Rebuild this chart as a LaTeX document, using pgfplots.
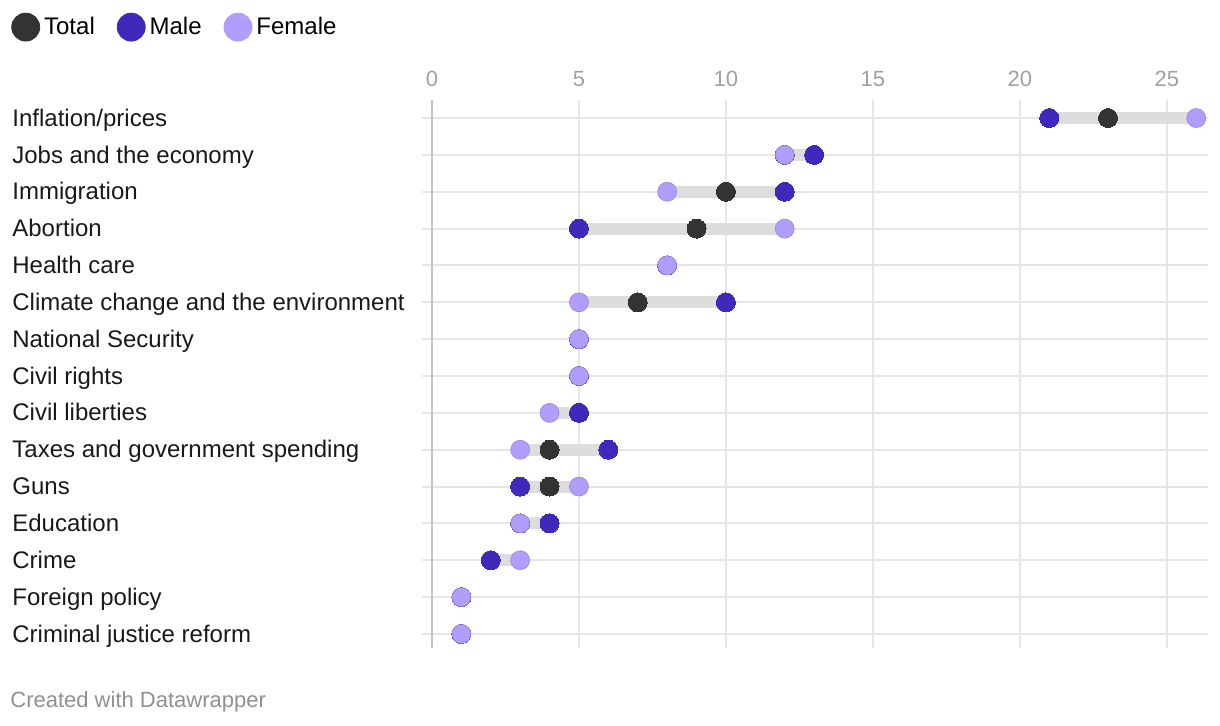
\documentclass[border=0pt]{standalone}
\usepackage{pgfplots}
\pgfplotsset{compat=1.18}
\usepackage{pgfplotstable}
\usepackage{fontspec}
\setmainfont{Liberation Sans}
\definecolor{cTotal}{HTML}{333333}
\definecolor{cMale}{HTML}{3F28BA}
\definecolor{cFemale}{HTML}{B29CFD}
\definecolor{cBar}{HTML}{DDDDDD}
\definecolor{cGrid}{HTML}{E6E6E6}
\definecolor{cZero}{HTML}{C4C4C4}
\definecolor{cTick}{HTML}{A0A0A0}
\pgfplotstableread{
y total male female lo span
0 23 21 26 21 5
1 12 13 12 12 1
2 10 12 8 8 4
3 9 5 12 5 7
4 8 8 8 8 0
5 7 10 5 5 5
6 5 5 5 5 0
7 5 5 5 5 0
8 5 5 4 4 1
9 4 6 3 3 3
10 4 3 5 3 2
11 3 4 3 3 1
12 2 2 3 2 1
13 1 1 1 1 0
14 1 1 1 1 0
}\data
\begin{document}
\begin{tikzpicture}[x=1pt,y=1pt]
\useasboundingbox (0,0) rectangle (610,363);
\begin{axis}[
  at={(211pt,39pt)}, anchor=south west, scale only axis,
  width=393pt, height=274pt,
  xmin=-0.34, xmax=26.4, ymin=-0.49, ymax=14.38, y dir=reverse,
  axis line style={draw=none},
  xtick={0,5,...,25}, ytick={0,...,14},
  yticklabels={Inflation/prices,Jobs and the economy,Immigration,Abortion,Health care,Climate change and the environment,National Security,Civil rights,Civil liberties,Taxes and government spending,Guns,Education,Crime,Foreign policy,Criminal justice reform},
  xticklabel pos=upper,
  /pgf/number format/assume math mode=true,
  tick style={draw=none},
  grid=major, major grid style={cGrid, line width=1pt},
  xticklabel style={text=cTick, font=\fontsize{11}{13}\selectfont, yshift=3pt},
  yticklabel style={anchor=west, xshift=-205pt, yshift=-1pt, inner sep=0pt, text height=8.7pt, text depth=2.6pt, font=\fontsize{12}{14}\selectfont, text=black!90},
  clip=false,
  legend style={at={(axis description cs:-0.523,1.160)}, anchor=north west, draw=none, inner sep=0pt,
    legend columns=3, font=\fontsize{12}{14}\selectfont,
    /tikz/every even column/.append style={column sep=9pt}},
  legend cell align=left,
]
\draw[cZero, line width=1pt] (axis cs:0,-0.49) -- (axis cs:0,14.38);
\addplot[draw=none, mark=none, forget plot,
  error bars/.cd, x dir=plus, x explicit,
  error bar style={line width=6pt, color=cBar}, error mark=none]
  table[x=lo, y=y, x error=span] {\data};
\addplot[only marks, color=cTotal, mark=*, mark size=4.75pt, mark options={fill=cTotal, draw=cTotal, line width=0pt},
  legend image code/.code={\fill[cTotal] (7pt,0pt) circle (7pt);}]
  table[x=total, y=y] {\data};
\addlegendentry{Total}
\addplot[only marks, color=cMale, mark=*, mark size=4.75pt, mark options={fill=cMale, draw=cMale, line width=0pt},
  legend image code/.code={\fill[cMale] (7pt,0pt) circle (7pt);}]
  table[x=male, y=y] {\data};
\addlegendentry{Male}
\addplot[only marks, color=cFemale, mark=*, mark size=4.75pt, mark options={fill=cFemale, draw=cFemale!85!black, line width=0.3pt},
  legend image code/.code={\fill[cFemale] (7pt,0pt) circle (7pt);}]
  table[x=female, y=y] {\data};
\addlegendentry{Female}
\end{axis}
\node[anchor=west, inner sep=0pt, text=cTick!90!black, font=\fontsize{11}{13}\selectfont] at (5pt,12pt) {Created with Datawrapper};
\end{tikzpicture}
\end{document}
